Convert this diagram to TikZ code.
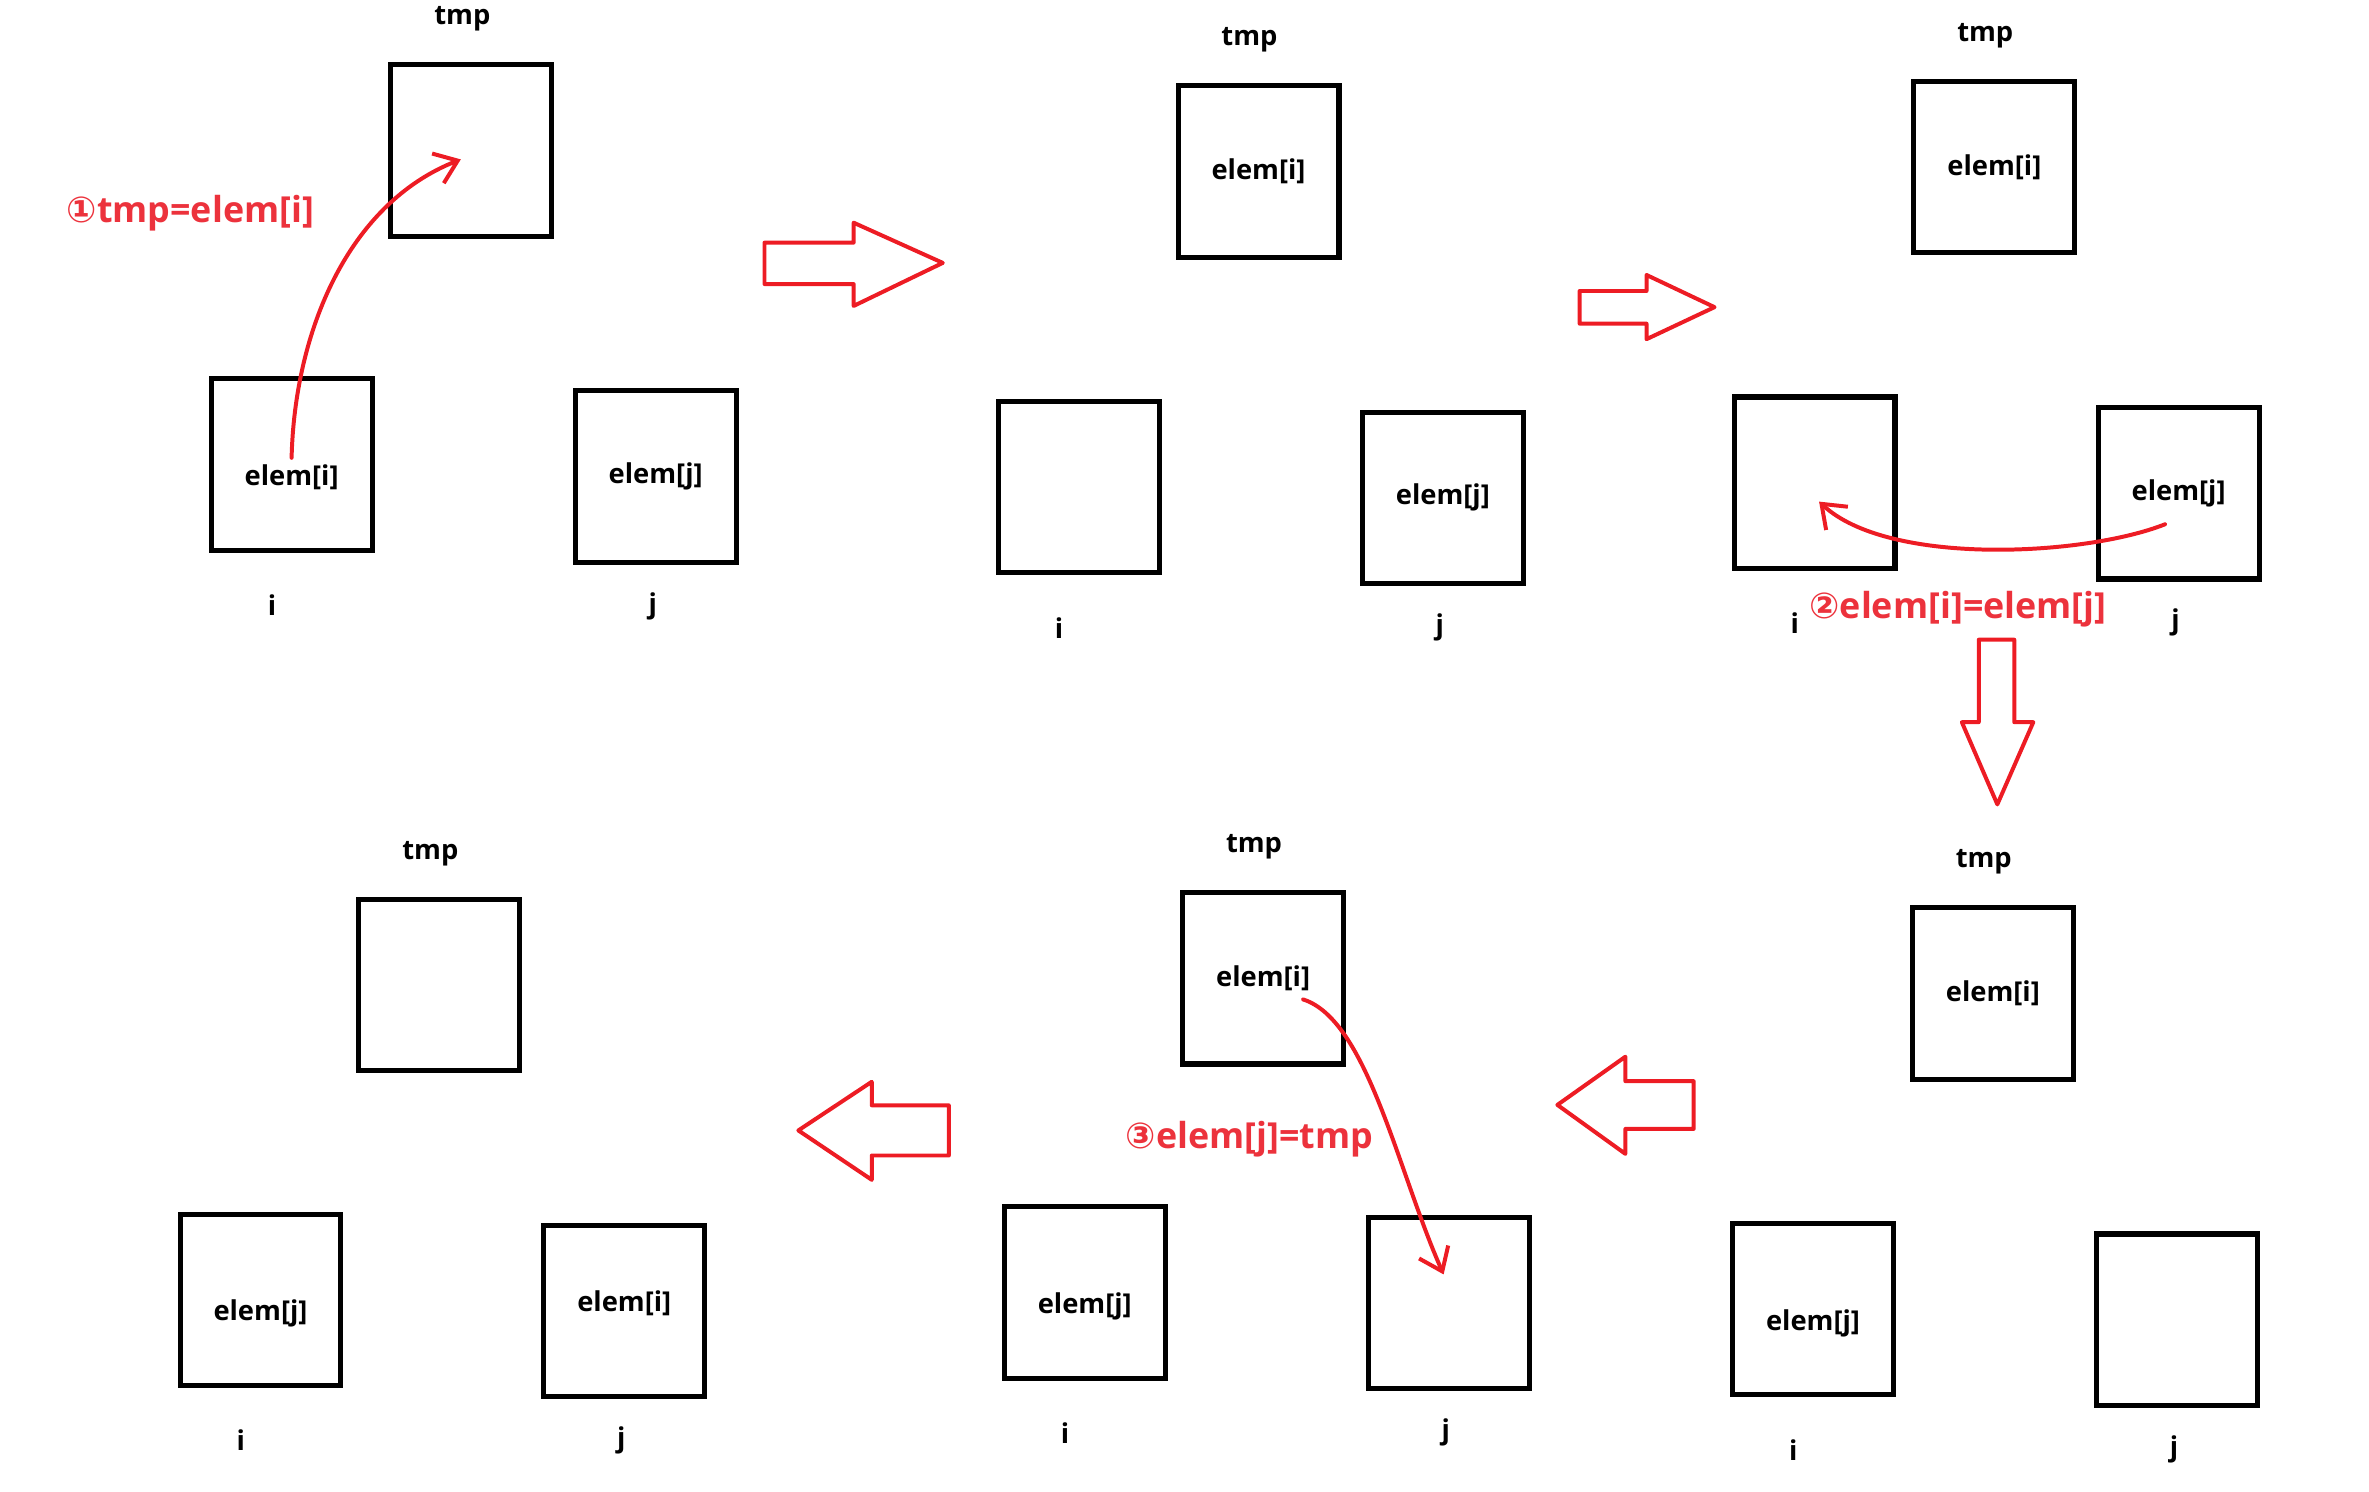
\documentclass[tikz,border=0pt]{standalone}
\usepackage{fontspec}
\setmainfont{Open Sans}
\newfontfamily\circfont{DejaVu Sans}
\usepackage{xcolor}
\usepackage{tikz}
\usetikzlibrary{positioning,arrows.meta}
\definecolor{paintred}{RGB}{237,28,36}
\definecolor{notered}{RGB}{236,50,60}

\begin{document}
\begin{tikzpicture}[x=0.02cm, y=-0.02cm,
    cell/.style={rectangle, draw=black, line width=1.9pt, minimum width=2.13cm, minimum height=2.27cm, inner sep=0pt, font=\fontsize{10.3}{12}\selectfont\bfseries},
    lowcell/.style={cell, text height=0.63cm, text depth=0.07cm},
    highcell/.style={cell, text height=0.29cm, text depth=0.27cm},
    varname/.style={inner sep=0pt, text height=0.75em, text depth=0.25em, font=\fontsize{10.3}{12}\selectfont\bfseries},
    note/.style={inner sep=0pt, text=notered, font=\fontsize{13.5}{16}\selectfont\bfseries},
    bigarrow/.style={draw=paintred, line width=1.5pt, line join=round},
    copyline/.style={draw=paintred, line width=1.5pt, line cap=round, line join=round, -{Straight Barb[length=8pt,width=12pt]}}]

    \useasboundingbox (0,0) rectangle (1568,987);

    \node [cell] at (312,99.5) (tmp1) {};
    \node [lowcell] at (193,307.5) (i1) {elem[i]};
    \node [cell] at (434,315.5) (j1) {elem[j]};

    \node [cell] at (833,113.5) (tmp2) {elem[i]};
    \node [cell] at (714,322.5) (i2) {};
    \node [cell] at (955,329.5) (j2) {elem[j]};

    \node [cell] at (1320,110.5) (tmp3) {elem[i]};
    \node [cell] at (1201,319.5) (i3) {};
    \node [cell] at (1442,326.5) (j3) {elem[j]};

    \node [cell] at (1319,657.5) (tmp4) {elem[i]};
    \node [lowcell] at (1200,866.5) (i4) {elem[j]};
    \node [cell] at (1441,873.5) (j4) {};

    \node [cell] at (836,647.5) (tmp5) {elem[i]};
    \node [lowcell] at (718,855.5) (i5) {elem[j]};
    \node [cell] at (959,862.5) (j5) {};

    \node [cell] at (290.8,651.8) (tmp6) {};
    \node [lowcell] at (172.4,860.3) (i6) {elem[j]};
    \node [highcell] at (413.2,867.7) (j6) {elem[i]};

    \node[varname, above=0.4cm of tmp1, xshift=-0.12cm] (tmpname1) {tmp};
    \node[varname, below=0.56cm of i1, xshift=-0.26cm] (iname1) {i};
    \node[varname, below=0.37cm of j1, xshift=-0.04cm] (jname1) {j};
    \node[varname, above=0.4cm of tmp2, xshift=-0.12cm] (tmpname2) {tmp};
    \node[varname, below=0.56cm of i2, xshift=-0.26cm] (iname2) {i};
    \node[varname, below=0.37cm of j2, xshift=-0.04cm] (jname2) {j};
    \node[varname, above=0.4cm of tmp3, xshift=-0.12cm] (tmpname3) {tmp};
    \node[varname, below=0.56cm of i3, xshift=-0.26cm] (iname3) {i};
    \node[varname, below=0.37cm of j3, xshift=-0.04cm] (jname3) {j};
    \node[varname, above=0.4cm of tmp4, xshift=-0.12cm] (tmpname4) {tmp};
    \node[varname, below=0.56cm of i4, xshift=-0.26cm] (iname4) {i};
    \node[varname, below=0.37cm of j4, xshift=-0.04cm] (jname4) {j};
    \node[varname, above=0.4cm of tmp5, xshift=-0.12cm] (tmpname5) {tmp};
    \node[varname, below=0.56cm of i5, xshift=-0.26cm] (iname5) {i};
    \node[varname, below=0.37cm of j5, xshift=-0.04cm] (jname5) {j};
    \node[varname, above=0.4cm of tmp6, xshift=-0.12cm] (tmpname6) {tmp};
    \node[varname, below=0.56cm of i6, xshift=-0.26cm] (iname6) {i};
    \node[varname, below=0.37cm of j6, xshift=-0.04cm] (jname6) {j};

    \node[note] at (126,141) (note1) {{\circfont ①}tmp=elem[i]};
    \node[note] at (1296,403) (note2) {{\circfont ②}elem[i]=elem[j]};
    \node[note] at (827,754) (note3) {{\circfont ③}elem[j]=tmp};

    \draw[copyline] ([yshift=0.09cm]i1.center) .. controls (195,220) and (230,135) .. ([xshift=-0.14cm,yshift=-0.12cm]tmp1.center);
    \draw[copyline] ([xshift=-0.18cm,yshift=-0.41cm]j3.center) .. controls (1380,368) and (1250,375) .. ([xshift=0.06cm,yshift=-0.25cm]i3.center);
    \draw[copyline] ([xshift=0.53cm,yshift=-0.28cm]tmp5.center) .. controls (905,675) and (925,775) .. ([xshift=-0.07cm,yshift=0.38cm]j5.center);

    \draw[bigarrow] (506,160.6) -- (565,160.6) -- (565,147.4) -- (624,174) -- (565,202.5) -- (565,188) -- (506,188) -- cycle;
    \draw[bigarrow] (1045.5,192.6) -- (1089.8,192.6) -- (1089.8,182) -- (1134.8,203.3) -- (1089.8,224.5) -- (1089.8,214.2) -- (1045.5,214.2) -- cycle;
    \draw[bigarrow] (1309.7,423.4) -- (1333.2,423.4) -- (1333.2,478) -- (1345.8,478) -- (1322,532.4) -- (1298.5,478) -- (1309.7,478) -- cycle;
    \draw[bigarrow] (1030.8,731.3) -- (1075.8,699.4) -- (1075.8,715.6) -- (1121,715.6) -- (1121,747.2) -- (1075.8,747.2) -- (1075.8,763.7) -- cycle;
    \draw[bigarrow] (528.4,748.2) -- (577,716) -- (577,731.6) -- (628,731.6) -- (628,764.8) -- (577,764.8) -- (577,780.9) -- cycle;
\end{tikzpicture}
\end{document}
